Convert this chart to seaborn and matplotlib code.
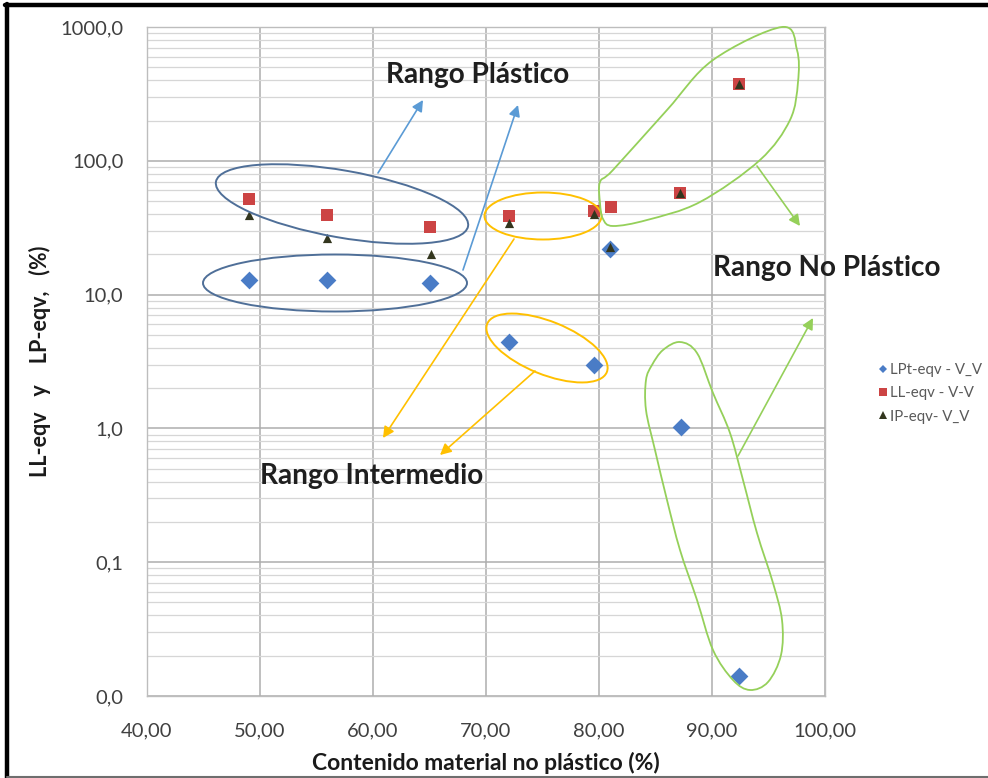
import numpy as np
import pandas as pd
import matplotlib
matplotlib.use("Agg")
import matplotlib.pyplot as plt
import matplotlib.transforms as mtransforms
from matplotlib.patches import Ellipse, PathPatch, FancyArrowPatch
from matplotlib.path import Path
from matplotlib.lines import Line2D
from matplotlib.ticker import LogLocator, NullFormatter, FixedLocator, FixedFormatter
import seaborn as sns

# ---- data -------------------------------------------------------------
# Contenido material no plástico (%) and equivalent consistency limits (%)
x_lpt = [49.0, 55.9, 65.0, 72.0, 79.6, 81.0, 87.3, 92.4]
lpt_eqv = [12.9, 12.8, 12.3, 4.4, 3.0, 22.0, 1.03, 0.014]

x_ll = [49.0, 55.9, 65.0, 72.0, 79.6, 81.1, 87.2, 92.4]
ll_eqv = [52.0, 39.5, 32.0, 38.9, 42.4, 45.4, 57.7, 376.0]

x_ip = [49.0, 55.9, 65.1, 72.0, 79.6, 81.0, 87.2, 92.4]
ip_eqv = [39.5, 26.6, 20.2, 34.4, 40.2, 22.5, 57.7, 376.0]

series_names = ["LPt-eqv - V_V", "LL-eqv - V-V", "IP-eqv- V_V"]

x_ticks = [40, 50, 60, 70, 80, 90, 100]
x_tick_labels = ["40,00", "50,00", "60,00", "70,00", "80,00", "90,00", "100,00"]
y_ticks = [0.01, 0.1, 1, 10, 100, 1000]
y_tick_labels = ["0,0", "0,1", "1,0", "10,0", "100,0", "1000,0"]

x_title = "Contenido material no plástico (%)"
y_title = "LL-eqv   y    LP-eqv,   (%)"
region_labels = ["Rango Plástico", "Rango Intermedio", "Rango No Plástico"]

# ---- style ------------------------------------------------------------
sns.set_style("white")
plt.rcParams["font.family"] = ["Lato", "DejaVu Sans"]

BLUE = "#4A7CC6"
RED = "#CC4444"
OLIVE = "#33361E"
ELL_BLUE = "#4F6F98"
ARR_BLUE = "#5B9BD5"
YELLOW = "#FFC000"
GREEN = "#95D05A"
TICK_GRAY = "#404040"

W, H = 988, 778
fig = plt.figure(figsize=(W / 100, H / 100), dpi=100)
fig.patch.set_facecolor("white")

# canvas-pixel coordinates, origin at top-left
pix = mtransforms.Affine2D().scale(1 / W, -1 / H).translate(0, 1) + fig.transFigure

ax = fig.add_axes([147 / W, 1 - 696 / H, 678 / W, 669 / H])

df_lpt = pd.DataFrame({"x": x_lpt, "y": lpt_eqv})
df_ll = pd.DataFrame({"x": x_ll, "y": ll_eqv})
df_ip = pd.DataFrame({"x": x_ip, "y": ip_eqv})

sns.scatterplot(data=df_lpt, x="x", y="y", marker="D", s=82, color=BLUE,
                linewidth=0, ax=ax, zorder=4, legend=False)
sns.scatterplot(data=df_ll, x="x", y="y", marker="s", s=82, color=RED,
                linewidth=0, ax=ax, zorder=5, legend=False)
sns.scatterplot(data=df_ip, x="x", y="y", marker="^", s=44, color=OLIVE,
                linewidth=0, ax=ax, zorder=6, legend=False)

ax.set_yscale("log")
ax.set_xlim(40, 100)
ax.set_ylim(0.01, 1000)

ax.xaxis.set_major_locator(FixedLocator(x_ticks))
ax.xaxis.set_major_formatter(FixedFormatter(x_tick_labels))
ax.yaxis.set_major_locator(FixedLocator(y_ticks))
ax.yaxis.set_major_formatter(FixedFormatter(y_tick_labels))
ax.yaxis.set_minor_locator(LogLocator(base=10, subs=np.arange(2, 10)))
ax.yaxis.set_minor_formatter(NullFormatter())

ax.grid(which="major", axis="both", color="#ADADAD", linewidth=1.1, zorder=0)
ax.grid(which="minor", axis="y", color="#D6D6D6", linewidth=0.9, zorder=0)
ax.set_axisbelow(True)
ax.tick_params(which="both", length=0)
ax.tick_params(axis="y", pad=17, labelsize=14.5, labelcolor=TICK_GRAY)
ax.tick_params(axis="x", pad=19, labelsize=14.5, labelcolor=TICK_GRAY)
for side in ax.spines.values():
    side.set_color("#BDBDBD")
    side.set_linewidth(1.0)

ax.set_xlabel(x_title, fontsize=16.5, fontweight="bold", color="#1A1A1A")
ax.set_ylabel(y_title, fontsize=15.5, fontweight="bold", color="#1A1A1A")
ax.xaxis.set_label_coords(0.5, -0.084)
ax.yaxis.set_label_coords(-0.141, 0.5)

# ---- group outlines and arrows ---------------------------------------
def outline(points):
    P = np.asarray(points, float)
    n = len(P)
    verts = [P[0]]
    codes = [Path.MOVETO]
    for i in range(n):
        p0, p1, p2, p3 = P[i - 1], P[i], P[(i + 1) % n], P[(i + 2) % n]
        verts += [p1 + (p2 - p0) / 6, p2 - (p3 - p1) / 6, p2]
        codes += [Path.CURVE4] * 3
    return Path(verts, codes)

shapes = [
    Ellipse((342, 204), 256, 67, angle=10, ec=ELL_BLUE),
    Ellipse((335, 283), 264, 57, angle=0, ec=ELL_BLUE),
    Ellipse((543, 216), 117, 47, angle=0, ec=YELLOW),
    Ellipse((547, 348), 129, 53, angle=22, ec=YELLOW),
]
for e in shapes:
    e.set_facecolor("none")
    e.set_linewidth(1.4)
    e.set_transform(pix)
    fig.add_artist(e)

green_top = [(600, 182), (613, 170), (667, 110), (713, 60), (782, 27), (797, 50),
             (798, 82), (790, 120), (760, 160), (700, 202), (647, 220), (613, 226),
             (603, 219), (600, 203)]
green_low = [(680, 342), (697, 353), (713, 393), (730, 433), (743, 480), (757, 533),
             (773, 583), (782, 620), (781, 655), (768, 682), (750, 690), (733, 680),
             (713, 650), (697, 600), (680, 550), (667, 500), (655, 450), (646, 410),
             (646, 380), (652, 365), (663, 350)]
for pts in (green_top, green_low):
    fig.add_artist(PathPatch(outline(pts), fc="none", ec=GREEN, lw=1.3, transform=pix))

arrows = [
    ((378, 173), (423, 100), ARR_BLUE),
    ((463, 270), (518, 105), ARR_BLUE),
    ((514, 239), (383, 438), YELLOW),
    ((535, 371), (440, 455), YELLOW),
    ((757, 166), (800, 226), GREEN),
    ((738, 456), (813, 318), GREEN),
]
for a, b, c in arrows:
    fig.add_artist(FancyArrowPatch(a, b, transform=pix, color=c, lw=1.2,
                                   arrowstyle="-|>,head_length=0.55,head_width=0.28",
                                   mutation_scale=12, shrinkA=0, shrinkB=0))

text_pos = [(478, 75), (372, 476), (827, 268)]
for label, (tx, ty) in zip(region_labels, text_pos):
    fig.text(tx, ty, label, transform=pix, ha="center", va="center",
             fontsize=20.2, fontweight="bold", color="#1F1F1F")

# ---- legend -----------------------------------------------------------
handles = [
    Line2D([], [], ls="none", marker="D", ms=4.2, color=BLUE, mew=0),
    Line2D([], [], ls="none", marker="s", ms=5.8, color=RED, mew=0),
    Line2D([], [], ls="none", marker="^", ms=5.8, color=OLIVE, mew=0),
]
leg = fig.legend(handles, series_names, loc="upper left", bbox_to_anchor=(879, 363),
                 bbox_transform=pix, frameon=False, fontsize=10.8, handlelength=0.5,
                 handletextpad=0.25, labelspacing=0.62, borderpad=0, borderaxespad=0)
for t in leg.get_texts():
    t.set_color("#595959")

# ---- outer frame ------------------------------------------------------
fig.add_artist(Line2D([5, W], [5, 5], transform=pix, color="black", lw=3.2))
fig.add_artist(Line2D([7, 7], [4, H], transform=pix, color="black", lw=3.2))
fig.add_artist(Line2D([7, W], [777, 777], transform=pix, color="#6E6E6E", lw=1.5))

fig.savefig("out.png", dpi=100, facecolor="white")
